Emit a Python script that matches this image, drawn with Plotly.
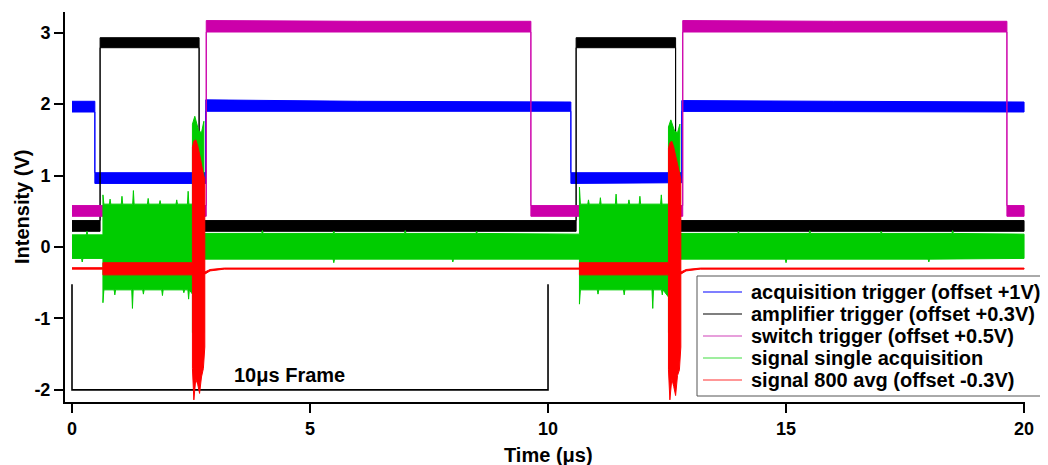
import plotly.graph_objects as go

# ---------------- data ----------------
# acquisition trigger (offset +1V): time (us) and upper / lower edges of the noisy trace (V)
acq_t  = [0.0, 0.48, 0.48, 2.81, 2.81, 6.0, 10.48, 10.48, 12.81, 12.81, 16.0, 20.0]
acq_hi = [2.04, 2.04, 1.04, 1.04, 2.06, 2.04, 2.03, 1.04, 1.04, 2.05, 2.04, 2.03]
acq_lo = [1.89, 1.89, 0.89, 0.89, 1.90, 1.90, 1.90, 0.89, 0.90, 1.90, 1.89, 1.89]

# amplifier trigger (offset +0.3V)
amp_t  = [0.0, 0.59, 0.59, 2.67, 2.67, 6.0, 10.59, 10.59, 12.68, 12.68, 16.0, 20.0]
amp_hi = [0.37, 0.37, 2.93, 2.93, 0.37, 0.37, 0.37, 2.93, 2.93, 0.37, 0.37, 0.37]
amp_lo = [0.22, 0.22, 2.79, 2.79, 0.22, 0.22, 0.22, 2.79, 2.79, 0.22, 0.22, 0.22]

# switch trigger (offset +0.5V)
sw_t  = [0.0, 2.82, 2.82, 6.0, 9.64, 9.64, 12.83, 12.83, 16.0, 19.64, 19.64, 20.0]
sw_hi = [0.58, 0.58, 3.17, 3.16, 3.16, 0.58, 0.58, 3.17, 3.16, 3.16, 0.58, 0.58]
sw_lo = [0.43, 0.43, 3.01, 3.01, 3.01, 0.43, 0.43, 3.01, 3.01, 3.01, 0.43, 0.43]

# signal single acquisition: upper edge
sig_hi_t = [0.0, 0.30, 0.315, 0.33, 0.65,
            0.65, 0.67, 0.785, 0.80, 0.815, 1.035, 1.05, 1.065, 1.275, 1.29, 1.305, 1.585, 1.60, 1.615,
            1.835, 1.85, 1.865, 2.185, 2.20, 2.215, 2.425, 2.44, 2.455, 2.53,
            2.53, 2.58, 2.66, 2.72, 2.77, 2.77,
            3.985, 4.0, 4.015, 5.485, 5.5, 5.515, 6.985, 7.0, 7.015, 8.485, 8.5, 8.515, 10.66,
            10.66, 10.68, 10.835, 10.85, 10.865, 11.085, 11.10, 11.115, 11.415, 11.43, 11.445,
            11.685, 11.70, 11.715, 11.915, 11.93, 11.945, 12.365, 12.38, 12.395, 12.53,
            12.53, 12.58, 12.66, 12.72, 12.77, 12.77,
            13.985, 14.0, 14.015, 15.485, 15.5, 15.515, 16.985, 17.0, 17.015, 18.485, 18.5, 18.515, 20.0]
sig_hi   = [0.17, 0.17, 0.22, 0.17, 0.17,
            0.73, 0.60, 0.60, 0.67, 0.60, 0.60, 0.71, 0.60, 0.60, 0.79, 0.60, 0.60, 0.68, 0.60,
            0.60, 0.65, 0.60, 0.60, 0.66, 0.60, 0.60, 0.78, 0.60, 0.60,
            1.72, 1.83, 1.63, 1.60, 1.76, 0.19,
            0.19, 0.23, 0.19, 0.19, 0.22, 0.19, 0.19, 0.23, 0.19, 0.19, 0.22, 0.19, 0.18,
            0.84, 0.60, 0.60, 0.66, 0.60, 0.60, 0.69, 0.60, 0.60, 0.74, 0.60,
            0.60, 0.66, 0.60, 0.60, 0.71, 0.60, 0.60, 0.73, 0.60, 0.60,
            1.68, 1.78, 1.62, 1.60, 1.72, 0.19,
            0.19, 0.22, 0.19, 0.19, 0.23, 0.19, 0.19, 0.22, 0.19, 0.19, 0.23, 0.19, 0.18]
# signal single acquisition: lower edge
sig_lo_t = [0.0, 0.20, 0.215, 0.23, 0.65,
            0.65, 0.67, 0.885, 0.90, 0.915, 1.255, 1.27, 1.285, 1.485, 1.50, 1.515, 1.885, 1.90, 1.915,
            2.335, 2.35, 2.365, 2.435, 2.45, 2.465, 2.53,
            2.53, 2.77, 2.77,
            5.485, 5.5, 5.515, 7.985, 8.0, 8.015, 10.66,
            10.66, 10.68, 11.035, 11.05, 11.065, 11.585, 11.60, 11.615, 12.185, 12.20, 12.215,
            12.385, 12.40, 12.415, 12.53,
            12.53, 12.77, 12.77,
            14.985, 15.0, 15.015, 17.985, 18.0, 18.015, 20.0]
sig_lo   = [-0.16, -0.16, -0.21, -0.16, -0.16,
            -0.78, -0.60, -0.60, -0.67, -0.60, -0.60, -0.86, -0.60, -0.60, -0.66, -0.60, -0.60, -0.68, -0.60,
            -0.60, -0.64, -0.60, -0.60, -0.73, -0.60, -0.66,
            -1.20, -1.20, -0.17,
            -0.17, -0.22, -0.17, -0.17, -0.21, -0.17, -0.17,
            -0.80, -0.60, -0.60, -0.66, -0.60, -0.60, -0.67, -0.60, -0.60, -0.86, -0.60,
            -0.60, -0.67, -0.60, -0.70,
            -1.20, -1.20, -0.17,
            -0.17, -0.22, -0.17, -0.17, -0.21, -0.17, -0.16]

# signal 800 avg (offset -0.3V)
avg_t  = [0.0, 0.65, 0.65, 2.53, 2.53, 2.56, 2.60, 2.64, 2.68, 2.72, 2.76, 2.79, 2.79, 2.90, 3.20,
          10.66, 10.66, 12.53, 12.53, 12.56, 12.60, 12.64, 12.68, 12.72, 12.76, 12.79, 12.79, 12.90, 13.20, 20.0]
avg_hi = [-0.29, -0.29, -0.22, -0.22, 1.40, 1.48, 1.50, 1.42, 1.30, 1.15, 1.02, 0.95, -0.35, -0.315, -0.295,
          -0.295, -0.22, -0.22, 1.38, 1.46, 1.48, 1.40, 1.28, 1.12, 1.00, 0.95, -0.35, -0.315, -0.295, -0.295]
avg_lo = [-0.31, -0.31, -0.39, -0.39, -1.70, -2.14, -1.85, -1.92, -2.05, -1.82, -1.70, -1.40, -0.38, -0.335, -0.31,
          -0.31, -0.39, -0.39, -1.72, -2.14, -1.85, -1.95, -2.08, -1.80, -1.72, -1.40, -0.38, -0.335, -0.31, -0.31]

# 10 us frame bracket
frame_x = [0, 0, 10, 10]
frame_y = [-0.52, -2.0, -2.0, -0.52]

names = ["acquisition trigger (offset +1V)",
         "amplifier trigger (offset +0.3V)",
         "switch trigger (offset +0.5V)",
         "signal single acquisition",
         "signal 800 avg (offset -0.3V)"]
colors = ["#0000FF", "#000000", "#CC00AA", "#00CC00", "#FF0000"]
legend_colors = ["#0000FF", "#000000", "#D040B8", "#40DD40", "#FF3030"]

series = [(acq_t, acq_hi, acq_t, acq_lo), (amp_t, amp_hi, amp_t, amp_lo), (sw_t, sw_hi, sw_t, sw_lo),
          (sig_hi_t, sig_hi, sig_lo_t, sig_lo), (avg_t, avg_hi, avg_t, avg_lo)]

FONT = "Liberation Sans, Arial, sans-serif"
BOLD = lambda s: dict(family=FONT, size=s, color="black", weight="bold")

fig = go.Figure()

# bracket
fig.add_trace(go.Scatter(x=frame_x, y=frame_y, mode="lines",
                         line=dict(color="black", width=1.6), showlegend=False,
                         hoverinfo="skip"))

for (th, hi, tl, lo), c, nm in zip(series, colors, names):
    fig.add_trace(go.Scatter(x=th + tl[::-1], y=hi + lo[::-1], mode="lines",
                             fill="toself", fillcolor=c, name=nm,
                             line=dict(color=c, width=1), showlegend=False,
                             hoverinfo="skip"))

axis_common = dict(showline=True, linecolor="black", linewidth=2, ticks="outside",
                   ticklen=9, tickwidth=2, tickcolor="black", showgrid=False,
                   zeroline=False, tickfont=BOLD(18))

# page is offset by the 8px body margin -> figure 1040x457
PX0, PX1, PY0, PY1 = 65, 1025, 12, 402   # plot area in page pixels
px = lambda p: (p - PX0) / (PX1 - PX0)
py = lambda p: (PY1 - p) / (PY1 - PY0)

# boxed legend in Igor style (tight rows)
shapes = [dict(type="rect", xref="paper", yref="paper", x0=px(697), x1=px(1046),
               y0=py(396), y1=py(276), line=dict(color="#555555", width=1),
               fillcolor="white", layer="above")]
annotations = []
row_y = [292, 314, 336, 358, 380]
for nm, c, ry in zip(names, legend_colors, row_y):
    shapes.append(dict(type="line", xref="paper", yref="paper", x0=px(703), x1=px(742),
                       y0=py(ry), y1=py(ry), line=dict(color=c, width=1.2), layer="above"))
    annotations.append(dict(text=nm, x=px(749), y=py(ry), xref="paper", yref="paper",
                            xanchor="left", yanchor="middle", showarrow=False,
                            font=BOLD(20)))

annotations += [
    dict(text="10μs Frame", x=4.56, y=-1.79, xref="x", yref="y", showarrow=False,
         font=BOLD(20)),
    dict(text="Intensity (V)", x=px(22), y=0.5, xref="paper", yref="paper",
         textangle=-90, showarrow=False, xanchor="center", yanchor="middle",
         font=BOLD(20)),
    dict(text="Time (μs)", x=10, y=py(455), xref="x", yref="paper",
         showarrow=False, xanchor="center", yanchor="middle", font=BOLD(20)),
]

fig.update_layout(
    width=1040, height=457,
    margin=dict(l=57, r=23, t=4, b=63),
    paper_bgcolor="white", plot_bgcolor="white",
    xaxis=dict(range=[-0.147, 20.02], tickvals=[0, 5, 10, 15, 20],
               ticktext=["0", "5", "10", "15", "20"], **axis_common),
    yaxis=dict(range=[-2.17, 3.29], tickvals=[-2, -1, 0, 1, 2, 3],
               ticktext=["-2", "-1", "0", "1", "2", "3"], **axis_common),
    showlegend=False,
    shapes=shapes,
    annotations=annotations,
)

fig.write_html("out.html")
